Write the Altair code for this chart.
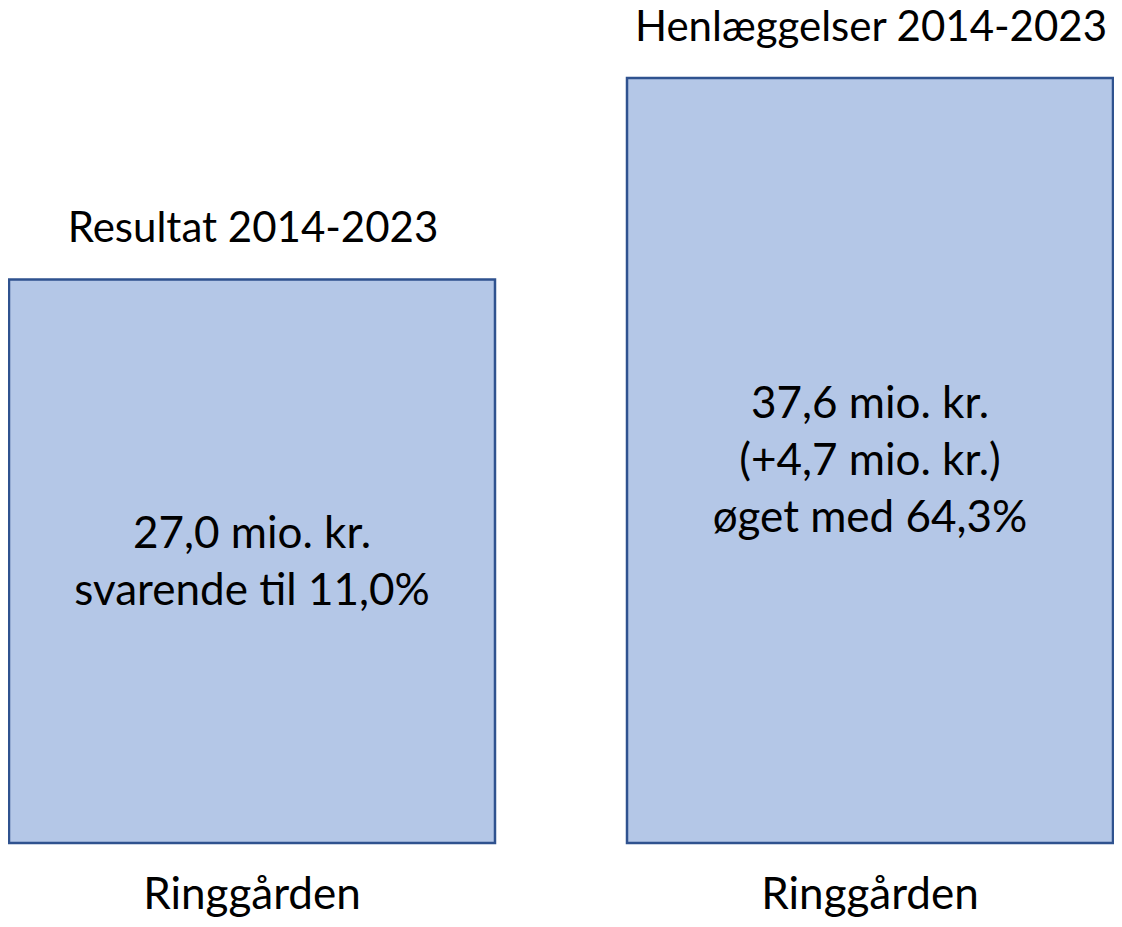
import altair as alt
import pandas as pd

# Data
titles = ["Resultat 2014-2023", "Henlæggelser 2014-2023"]
places = ["Ringgården", "Ringgården"]
bar_heights = [27.7, 37.6]  # drawn height of each box (mio. kr. scale)
inner_texts = [
    "27,0 mio. kr.\nsvarende til 11,0%",
    "37,6 mio. kr.\n(+4,7 mio. kr.)\nøget med 64,3%",
]

df = pd.DataFrame({
    "title": titles,
    "place": places,
    "value": bar_heights,
    "inner": inner_texts,
})

FONT = "Lato"
FS = 44
H = 835
YMAX = 41.04
LINE_H = 57

x = alt.X("title:N", sort=titles, axis=None,
          scale=alt.Scale(paddingInner=0.2136, paddingOuter=0.0016))
y_scale = alt.Scale(domain=[0, YMAX], nice=False, zero=True)

base = alt.Chart(df)

bars = base.mark_bar(
    fill="#B4C7E7", stroke="#2F528F", strokeWidth=2.5, clip=False
).encode(
    x=x,
    y=alt.Y("value:Q", scale=y_scale, axis=None),
)

title_text = base.mark_text(
    font=FONT, fontSize=42, color="#000000", baseline="alphabetic",
    align="center", dy=-37, dx=1, clip=False
).encode(
    x=x,
    y=alt.Y("value:Q", scale=y_scale),
    text="title:N",
)

# centre the multi-line block vertically inside each box
inner = base.transform_calculate(
    mid=f"datum.value / 2 + (length(split(datum.inner, '\\n')) - 1) / 2 * {LINE_H} * {YMAX} / {H} - 2 * {YMAX} / {H}"
).mark_text(
    font=FONT, fontSize=FS, color="#000000", baseline="middle",
    align="center", lineBreak="\n", lineHeight=LINE_H, clip=False
).encode(
    x=x,
    y=alt.Y("mid:Q", scale=y_scale),
    text="inner:N",
)

bottom = base.mark_text(
    font=FONT, fontSize=FS, color="#000000", baseline="alphabetic",
    align="center", dy=66, clip=False
).encode(
    x=x,
    y=alt.datum(0, scale=y_scale),
    text="place:N",
)

chart = alt.layer(bars, title_text, inner, bottom).properties(
    width=1106,
    height=H,
    padding={"left": 0, "top": 0, "right": 0, "bottom": 74},
    autosize=alt.AutoSizeParams(type="none"),
    background="white",
).configure_view(stroke=None)

chart.save("out.html", embed_options={"renderer": "svg", "actions": False})
